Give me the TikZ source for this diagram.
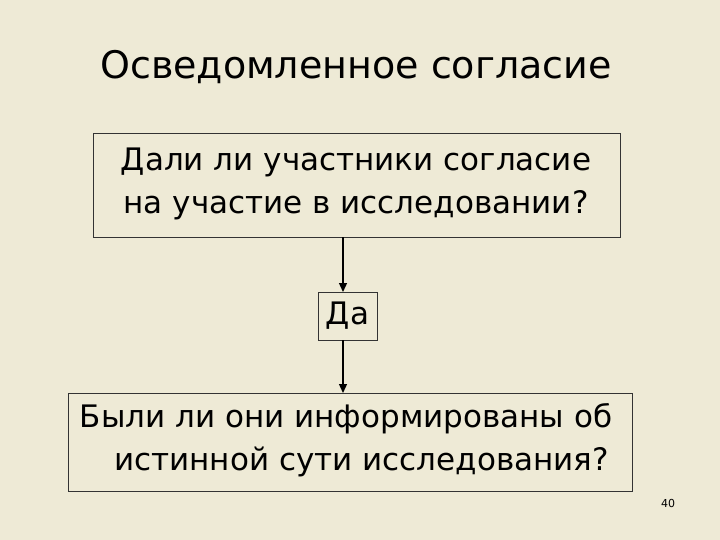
\documentclass[tikz,border=0pt]{standalone}
\usepackage{fontspec}
\setmainfont{DejaVu Sans}
\usetikzlibrary{arrows.meta}
\definecolor{bg}{HTML}{EEEAD6}
\begin{document}
\begin{tikzpicture}[x=1pt,y=-1pt,
  box/.style={draw=black!80,line width=0.8pt,inner sep=0pt},
  arr/.style={-{Triangle[length=9pt,width=8pt]},line width=1.3pt},
  txt/.style={font=\fontsize{31}{43}\selectfont,align=center}]
\fill[bg] (0,0) rectangle (720,540);
\useasboundingbox (0,0) rectangle (720,540);
\node[font=\fontsize{38}{44}\selectfont] (title) at (356,67) {Осведомленное согласие};
\node[box,minimum width=527pt,minimum height=104pt] (q1) at (356.5,185) {};
\node[txt] (t1) at (356,184) {Дали ли участники согласие\\на участие в исследовании?};
\node[box,minimum width=59pt,minimum height=48pt] (da) at (347.5,316) {};
\node[txt] (t2) at (347.5,316) {Да};
\node[box,minimum width=564pt,minimum height=98pt] (q2) at (350,442) {};
\node[txt] (t3) at (346,440) {Были ли они информированы об\\\hspace*{1.0em}истинной сути исследования?};
\node[font=\fontsize{11}{13}\selectfont] (num) at (668,503) {40};
\draw[arr] (343,237) -- (343,292);
\draw[arr] (343,340) -- (343,393);
\end{tikzpicture}
\end{document}
